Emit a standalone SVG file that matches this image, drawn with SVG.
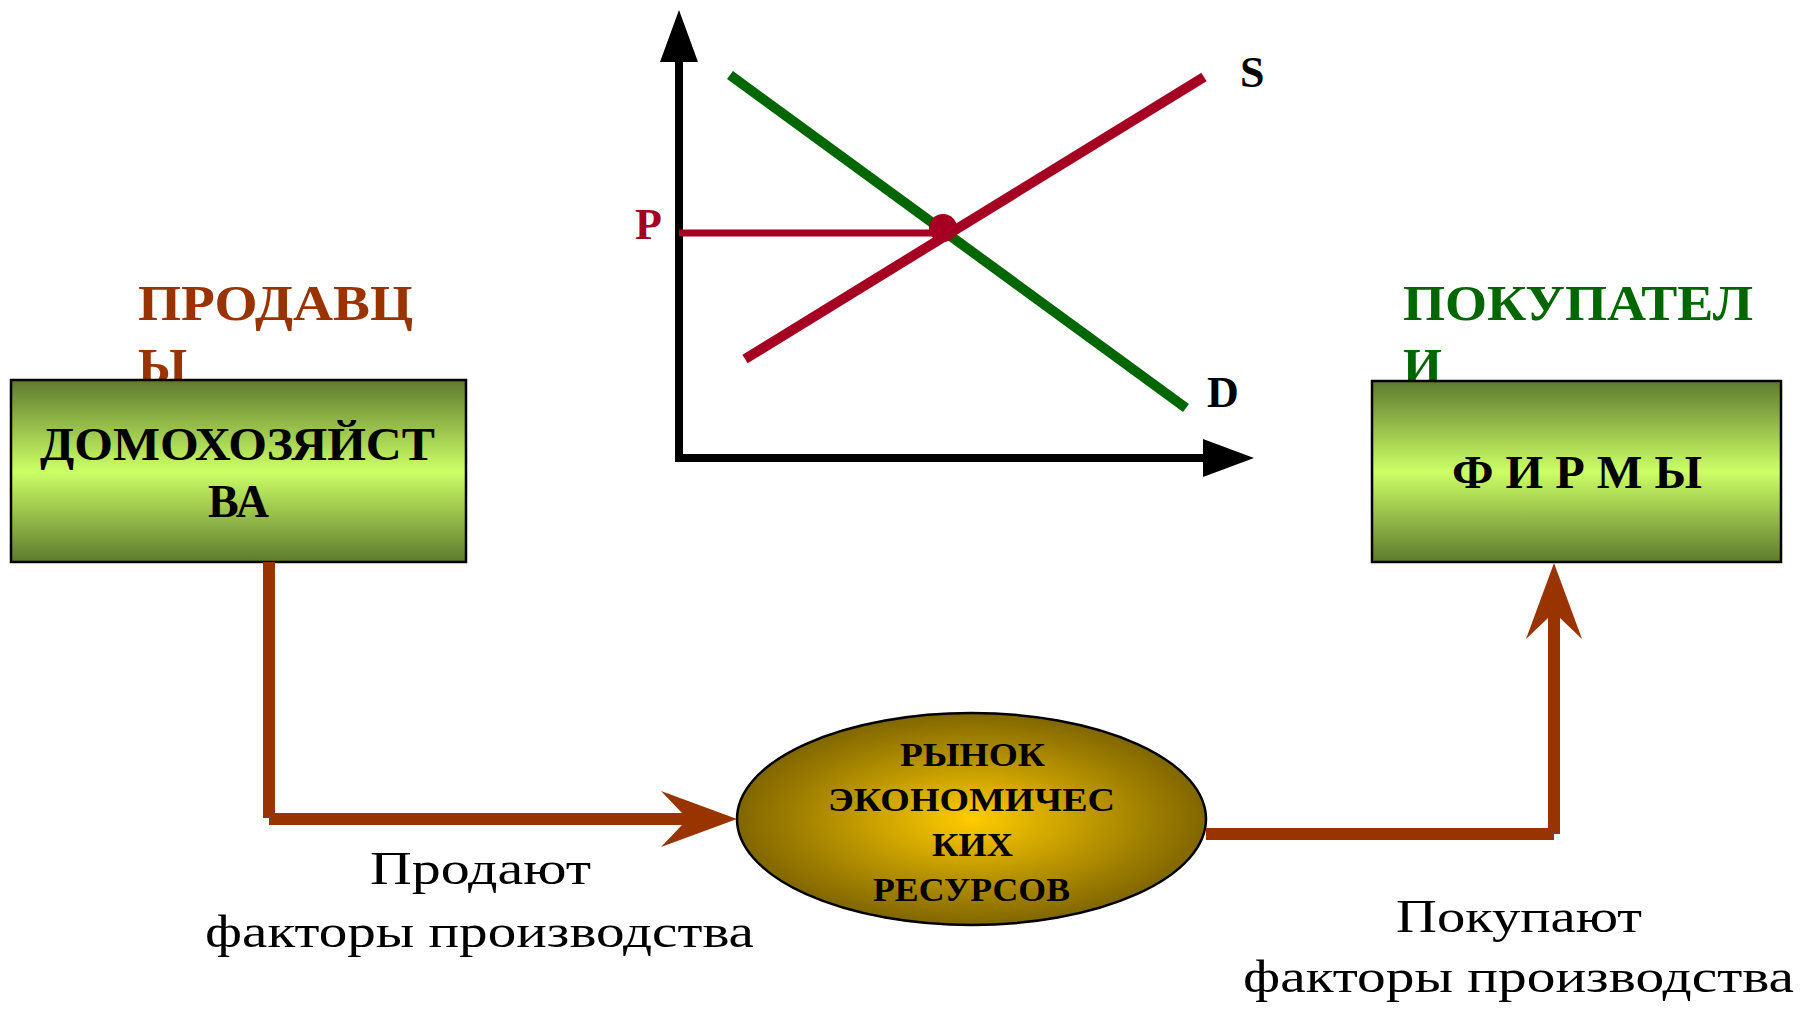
<svg xmlns="http://www.w3.org/2000/svg" width="1800" height="1009" viewBox="0 0 1800 1009">
<defs>
<linearGradient id="boxGrad" x1="0" y1="0" x2="0" y2="1">
<stop offset="0" stop-color="#5E7A2E"/>
<stop offset="0.5" stop-color="#CCFF66"/>
<stop offset="1" stop-color="#5E7A2E"/>
</linearGradient>
<radialGradient id="ellGrad" cx="0.5" cy="0.5" r="0.5">
<stop offset="0" stop-color="#FFCC00"/>
<stop offset="1" stop-color="#806600"/>
</radialGradient>
<style>
.box{fill:url(#boxGrad);stroke:#000;stroke-width:2.5}
.lbl{font-family:"Liberation Serif","Times New Roman",serif;font-weight:bold}
.reg{font-family:"Liberation Serif","Times New Roman",serif;font-size:46px;fill:#000}
.conn{stroke:#993300;stroke-width:12;fill:none;stroke-linecap:butt}
.head{fill:#993300}
.axis{stroke:#000;stroke-width:8;fill:none}
</style>
</defs>
<rect width="1800" height="1009" fill="#fff"/>

<g id="chart">
<line class="axis" x1="679" y1="458" x2="679" y2="60"/>
<polygon points="679,10 698,62 660,62" fill="#000"/>
<line class="axis" x1="675" y1="458" x2="1205" y2="458"/>
<polygon points="1254,458 1203,439 1203,477" fill="#000"/>
<line x1="730" y1="75" x2="1186" y2="408" stroke="#006600" stroke-width="10"/>
<line x1="745" y1="359" x2="1204" y2="77" stroke="#A50021" stroke-width="10"/>
<line x1="679" y1="233" x2="940" y2="233" stroke="#A50021" stroke-width="7"/>
<circle cx="943" cy="228" r="14" fill="#A50021"/>
<text class="lbl" x="635" y="239" font-size="44" fill="#A50021">P</text>
<text class="lbl" x="1240" y="87" font-size="44" fill="#000">S</text>
<text class="lbl" x="1207" y="407" font-size="44" fill="#000">D</text>
</g>

<g id="sellers-label">
<text class="lbl" font-size="50" fill="#993300"><tspan x="138" y="320" textLength="275" lengthAdjust="spacingAndGlyphs">ПРОДАВЦ</tspan><tspan x="138" y="383">Ы</tspan></text>
</g>
<g id="buyers-label">
<text class="lbl" font-size="50" fill="#006600"><tspan x="1403" y="320" textLength="350" lengthAdjust="spacingAndGlyphs">ПОКУПАТЕЛ</tspan><tspan x="1403" y="383">И</tspan></text>
</g>

<g id="households">
<rect class="box" x="11" y="380" width="455" height="182"/>
<text class="lbl" font-size="46" fill="#000"><tspan x="40" y="460" textLength="395" lengthAdjust="spacingAndGlyphs">ДОМОХОЗЯЙСТ</tspan><tspan x="238.5" y="517" text-anchor="middle">ВА</tspan></text>
</g>

<g id="firms">
<rect class="box" x="1372" y="381" width="409" height="181"/>
<text class="lbl" font-size="46" fill="#000" x="1452" y="488" textLength="250" lengthAdjust="spacingAndGlyphs" xml:space="preserve">Ф И Р М Ы</text>
</g>

<g id="market">
<ellipse cx="971.5" cy="819" rx="234.5" ry="106" fill="url(#ellGrad)" stroke="#000" stroke-width="2.5"/>
<text class="lbl" font-size="34" fill="#000">
<tspan x="900" y="766" textLength="145" lengthAdjust="spacingAndGlyphs">РЫНОК</tspan>
<tspan x="828" y="811" textLength="287" lengthAdjust="spacingAndGlyphs">ЭКОНОМИЧЕС</tspan>
<tspan x="932" y="856" textLength="81" lengthAdjust="spacingAndGlyphs">КИХ</tspan>
<tspan x="873" y="901" textLength="197" lengthAdjust="spacingAndGlyphs">РЕСУРСОВ</tspan>
</text>
</g>

<g id="connectors">
<line class="conn" x1="269" y1="562" x2="269" y2="818"/>
<line class="conn" x1="269" y1="819" x2="684" y2="819"/>
<polygon class="head" points="737,819 661,791 682,813 682,825 661,847"/>
<line class="conn" x1="1206" y1="834" x2="1554" y2="834"/>
<line class="conn" x1="1554" y1="834" x2="1554" y2="616"/>
<polygon class="head" points="1554,563 1582,639 1560,618 1548,618 1526,639"/>
</g>

<g id="labels">
<text class="reg"><tspan x="370" y="884" textLength="221" lengthAdjust="spacingAndGlyphs">Продают</tspan><tspan x="205" y="947" textLength="549" lengthAdjust="spacingAndGlyphs">факторы производства</tspan></text>
<text class="reg"><tspan x="1396" y="932" textLength="246" lengthAdjust="spacingAndGlyphs">Покупают</tspan><tspan x="1243" y="992" textLength="551" lengthAdjust="spacingAndGlyphs">факторы производства</tspan></text>
</g>
</svg>
